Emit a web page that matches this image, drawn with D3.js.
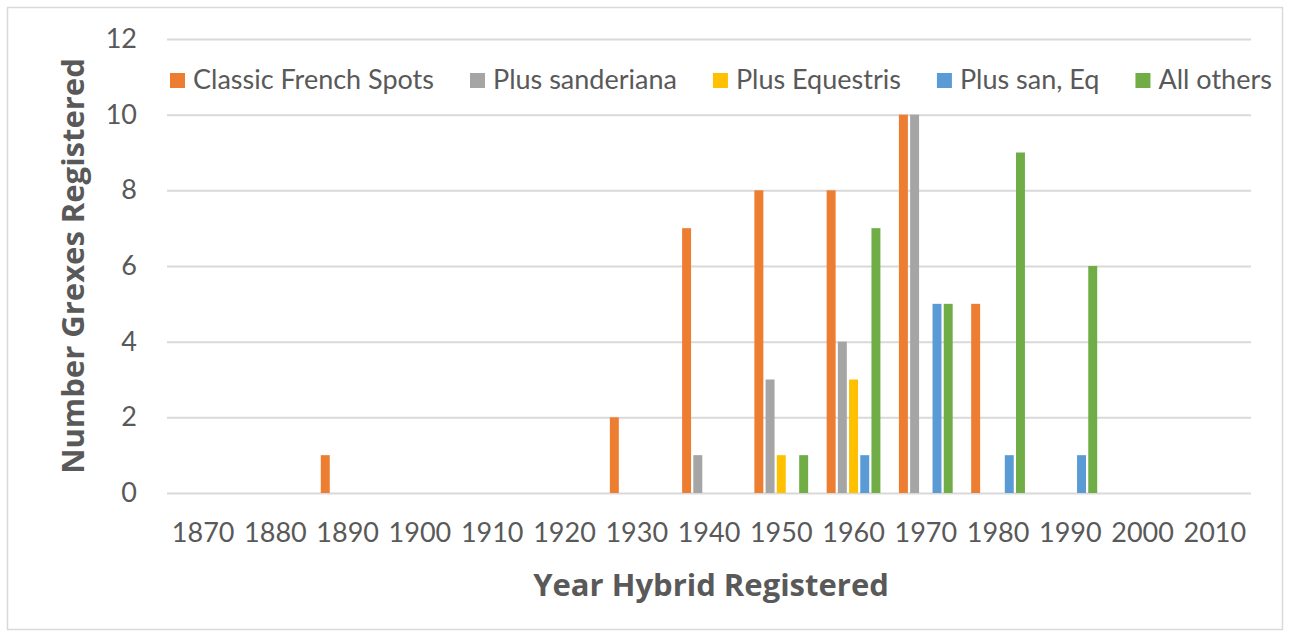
<!DOCTYPE html>
<html>
<head>
<meta charset="utf-8">
<script src="https://cdn.jsdelivr.net/npm/d3@7"></script>
<style>
  html, body { margin: 0; padding: 0; background: #fff; }
  svg { display: block; }
</style>
</head>
<body>
<div id="chart"></div>
<script>
// categories and series values
const aYears = ["1870", "1880", "1890", "1900", "1910", "1920", "1930", "1940", "1950", "1960", "1970", "1980", "1990", "2000", "2010"];
const aClassic    = [0, 0, 1, 0, 0, 0, 2, 7, 8, 8, 10, 5, 0, 0, 0];
const aSanderiana = [0, 0, 0, 0, 0, 0, 0, 1, 3, 4, 10, 0, 0, 0, 0];
const aEquestris  = [0, 0, 0, 0, 0, 0, 0, 0, 1, 3, 0, 0, 0, 0, 0];
const aSanEq      = [0, 0, 0, 0, 0, 0, 0, 0, 0, 1, 5, 1, 1, 0, 0];
const aOthers     = [0, 0, 0, 0, 0, 0, 0, 0, 1, 7, 5, 9, 6, 0, 0];
const aSeriesNames = ["Classic French Spots", "Plus sanderiana", "Plus Equestris", "Plus san, Eq", "All others"];
const aYTicks = [0, 2, 4, 6, 8, 10, 12];

const aColors = ["#ED7D31", "#A5A5A5", "#FFC000", "#5B9BD5", "#70AD47"];
const aSeries = [aClassic, aSanderiana, aEquestris, aSanEq, aOthers];

const iWidth = 1289, iHeight = 637;
const oMargin = { top: 39, right: 38, bottom: 144, left: 167 }; // plot area
const iInnerW = iWidth - oMargin.left - oMargin.right;
const iInnerH = iHeight - oMargin.top - oMargin.bottom;
const sText = "#595959";
const sFont = "Lato, 'Open Sans', sans-serif";
const sTitleFont = "'Open Sans', Lato, sans-serif";

const d3Svg = d3.select("#chart").append("svg")
    .attr("width", iWidth)
    .attr("height", iHeight);

// chart border
d3Svg.append("rect")
    .attr("x", 7.5).attr("y", 7.5)
    .attr("width", 1275).attr("height", 622)
    .attr("fill", "#fff")
    .attr("stroke", "#d9d9d9")
    .attr("stroke-width", 1.5);

const x0 = d3.scaleBand().domain(aYears).range([0, iInnerW]).paddingInner(0.225).paddingOuter(0.1125);
const x1 = d3.scaleBand().domain(d3.range(aSeries.length)).range([0, x0.bandwidth()]).paddingInner(0.2).paddingOuter(0.1);
const y = d3.scaleLinear().domain([0, 12]).range([iInnerH, 0]);

const g = d3Svg.append("g").attr("transform", `translate(${oMargin.left},${oMargin.top})`);

// gridlines
g.append("g")
    .call(d3.axisLeft(y).tickValues(aYTicks).tickSize(-iInnerW).tickFormat(""))
    .call(a => a.select(".domain").remove())
    .call(a => a.selectAll("line").attr("stroke", "#d9d9d9").attr("stroke-width", 2));

// y tick labels
g.append("g")
    .call(d3.axisLeft(y).tickValues(aYTicks).tickSize(0).tickPadding(30))
    .call(a => a.select(".domain").remove())
    .call(a => a.selectAll("text").attr("fill", sText).attr("font-family", sFont).attr("font-size", "27px"));

// x tick labels
g.append("g")
    .attr("transform", `translate(0,${iInnerH})`)
    .call(d3.axisBottom(x0).tickSize(0).tickPadding(30).tickSizeOuter(0))
    .call(a => a.select(".domain").remove())
    .call(a => a.selectAll("text").attr("fill", sText).attr("font-family", sFont).attr("font-size", "27px"));

// bars
const gGroup = g.selectAll("g.year").data(aYears)
    .enter().append("g")
    .attr("class", "year")
    .attr("transform", sYear => `translate(${x0(sYear)},0)`);

gGroup.selectAll("rect")
    .data((sYear, i) => aSeries.map((aValues, k) => ({ k: k, v: aValues[i] })))
    .enter().append("rect")
    .filter(d => d.v > 0)
    .attr("x", d => x1(d.k))
    .attr("y", d => y(d.v))
    .attr("width", x1.bandwidth())
    .attr("height", d => y(0) - y(d.v))
    .attr("fill", d => aColors[d.k]);

// legend
const gLegend = d3Svg.append("g").attr("transform", "translate(170,73)");
let iLegendX = 0;
aSeriesNames.forEach((sName, k) => {
    gLegend.append("rect")
        .attr("x", iLegendX).attr("y", 0)
        .attr("width", 15).attr("height", 15)
        .attr("fill", aColors[k]);
    const t = gLegend.append("text")
        .attr("x", iLegendX + 23).attr("y", 16)
        .attr("fill", sText)
        .attr("font-family", sFont)
        .attr("font-size", "27px")
        .text(sName);
    iLegendX += 23 + t.node().getComputedTextLength() + 36;
});

// axis titles
d3Svg.append("text")
    .attr("x", oMargin.left + iInnerW / 2 + 2)
    .attr("y", 596)
    .attr("text-anchor", "middle")
    .attr("fill", sText)
    .attr("font-family", sTitleFont)
    .attr("font-weight", "bold")
    .attr("font-size", "31px")
    .text("Year Hybrid Registered");

d3Svg.append("text")
    .attr("transform", `translate(84,${oMargin.top + iInnerH / 2}) rotate(-90)`)
    .attr("text-anchor", "middle")
    .attr("fill", sText)
    .attr("font-family", sTitleFont)
    .attr("font-weight", "bold")
    .attr("font-size", "31px")
    .text("Number Grexes Registered");
</script>
</body>
</html>
